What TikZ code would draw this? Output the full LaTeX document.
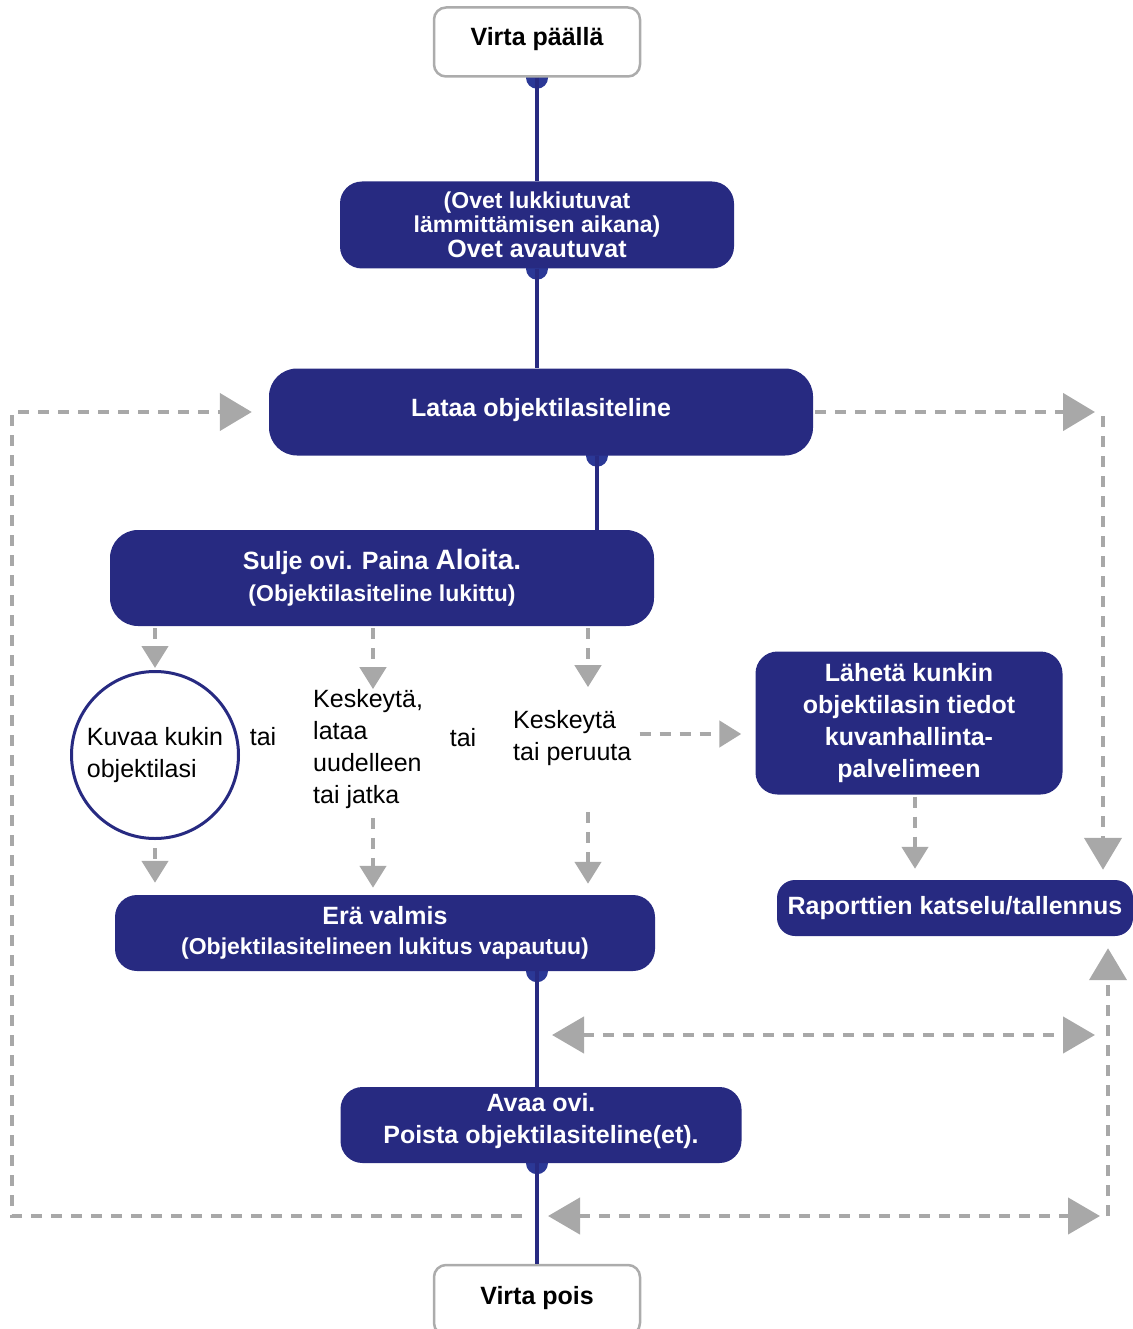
\documentclass[tikz,border=0pt]{standalone}
\usepackage{fontspec}
\setmainfont{Liberation Sans}
\usetikzlibrary{arrows.meta, positioning, backgrounds, calc}
\definecolor{flownavy}{RGB}{39,42,129}
\definecolor{dotblue}{RGB}{43,56,150}
\definecolor{dashgray}{RGB}{168,168,168}
\definecolor{rimgray}{RGB}{172,172,172}
\newcommand{\bigbf}{\fontsize{25}{32}\selectfont\bfseries}
\newcommand{\smallbf}{\fontsize{23}{25}\selectfont\bfseries}
\newcommand{\plaintxt}{\fontsize{25}{32}\selectfont}
\tikzset{
    % Power on / off
    powerbox/.style={rectangle, rounded corners=12pt, draw=rimgray, line width=2.5pt, fill=white,
                minimum width=206pt, minimum height=69pt, align=center, font=\bigbf},
    % Process steps
    stepbox/.style={rectangle, rounded corners=22pt, fill=flownavy, text=white,
                inner sep=0pt, align=center, font=\bigbf},
    camcircle/.style={circle, draw=flownavy, line width=3pt, fill=white, minimum size=167pt,
                inner sep=0pt, align=left, font=\plaintxt},
    choicetxt/.style={inner sep=0pt, align=left, font=\plaintxt},
    % Connectors
    mainline/.style={flownavy, line width=4pt},
    joint/.style={fill=dotblue},
    gdash/.style={dashgray, line width=4.5pt, dash pattern=on 11pt off 9pt},
    smallhead/.style={gdash, -{Triangle[length=22pt, width=26pt]}},
    bighead/.style={gdash, -{Triangle[length=32pt, width=37pt]}},
    bothhead/.style={gdash, {Triangle[length=32pt, width=36pt]}-{Triangle[length=32pt, width=36pt]}},
}
\begin{document}
\begin{tikzpicture}[x=1pt, y=-1pt]
\useasboundingbox (0,0) rectangle (1132,1329);

% main column
\node[powerbox, text depth=11pt] (on) at (537,42) {Virta päällä};
\node[stepbox, minimum width=394pt, minimum height=87pt] (doors) at (537,225)
    {\smallbf (Ovet lukkiutuvat\\[-8pt] \smallbf lämmittämisen aikana)\\[-7pt] \bigbf Ovet avautuvat};
\node[stepbox, rounded corners=28pt, minimum width=544pt, minimum height=87pt, text depth=10pt] (load) at (541,412)
    {Lataa objektilasiteline};
\node[stepbox, rounded corners=28pt, minimum width=544pt, minimum height=96pt] (close) at (382,578)
    {\bigbf Sulje ovi. Paina {\fontsize{28}{31}\selectfont Aloita.}\\ \smallbf (Objektilasiteline lukittu)};

% choices
\node[camcircle] (shoot) at (155,755) {Kuvaa kukin\\ objektilasi};
\node[choicetxt] (or1) at (263,737) {tai};
\node[choicetxt, anchor=west] (redo) at (313,749) {Keskeytä,\\ lataa\\ uudelleen\\ tai jatka};
\node[choicetxt] (or2) at (463,738) {tai};
\node[choicetxt, anchor=west] (halt) at (513,738) {Keskeytä\\ tai peruuta};
\node[stepbox, minimum width=307pt, minimum height=143pt] (send) at (909,723)
    {Lähetä kunkin\\ objektilasin tiedot\\ kuvanhallinta-\\ palvelimeen};
\node[stepbox, rounded corners=18pt, minimum width=356pt, minimum height=56pt] (report) at (955,908)
    {Raporttien katselu/tallennus};

% end of run
\node[stepbox, minimum width=540pt, minimum height=76pt] (done) at (385,933)
    {\bigbf Erä valmis\\[-2pt] \smallbf (Objektilasitelineen lukitus vapautuu)};
\node[stepbox, minimum width=401pt, minimum height=76pt, text depth=14pt] (open) at (541,1125)
    {Avaa ovi.\\ Poista objektilasiteline(et).};
\node[powerbox, minimum height=70pt, text depth=10pt] (off) at (537,1300) {Virta pois};

% columns for the dashed connectors
\coordinate (j1) at (597,0);
\coordinate (colB) at (373,0);
\coordinate (colC) at (588,0);
\coordinate (colD) at (915,0);
\coordinate (rCol) at (1103,0);
\coordinate (bCol) at (1108,0);
\coordinate (lCol) at (12,0);
\coordinate (ret) at (537,1216);
\coordinate (mid) at (537,1035);

% solid spine
\draw[mainline] (on.south) -- (doors.north);
\draw[mainline] (doors.south) -- (doors.south |- load.north);
\draw[mainline] (load.south -| j1) -- (close.north -| j1);
\draw[mainline] (done.south -| on) -- (open.north -| on);
\draw[mainline] (open.south -| on) -- (off.north);
\begin{scope}[on background layer]
\foreach \p in {on.south, doors.south, {load.south -| j1}, {done.south -| on}, {open.south -| on}}
    \fill[joint] (\p) circle (11pt);
\end{scope}

% choice arrows
\draw[smallhead, shorten <=2pt, shorten >=2pt] (close.south -| shoot) -- (shoot.north);
\draw[smallhead, shorten <=2pt] (close.south -| colB) -- (redo.north -| colB);
\draw[smallhead, shorten <=2pt, shorten >=23pt] (close.south -| colC) -- (halt.north -| colC);
\draw[smallhead, shorten <=8pt, shorten >=12pt] (shoot.south) -- (done.north -| shoot);
\draw[smallhead, shorten <=9pt, shorten >=7pt] (redo.south -| colB) -- (done.north -| colB);
\draw[smallhead, shorten <=46pt, shorten >=11pt] (halt.south -| colC) -- (done.north -| colC);
\draw[smallhead, shorten <=8pt, shorten >=14pt] ([yshift=4pt]halt.east) -- ([yshift=4pt]halt.east -| send.west);
\draw[smallhead, shorten <=2pt, shorten >=11pt] (send.south -| colD) -- (report.north -| colD);

% loops
\draw[bighead, shorten <=2pt, shorten >=8pt] (load.east) -- (load.east -| rCol);
\draw[bighead, shorten <=4pt, shorten >=10pt] (load.east -| rCol) -- (report.north -| rCol);
\draw[bighead, shorten <=15pt, shorten >=17pt] (ret) -| (lCol |- load.west) -- (load.west);
\draw[bothhead, shorten <=11pt, shorten >=8pt] (ret) -- (ret -| bCol);
\draw[bothhead, shorten <=15pt, shorten >=13pt] (mid) -- (mid -| bCol);
\draw[bighead, shorten >=12pt] (ret -| bCol) -- (report.south -| bCol);
\end{tikzpicture}
\end{document}
